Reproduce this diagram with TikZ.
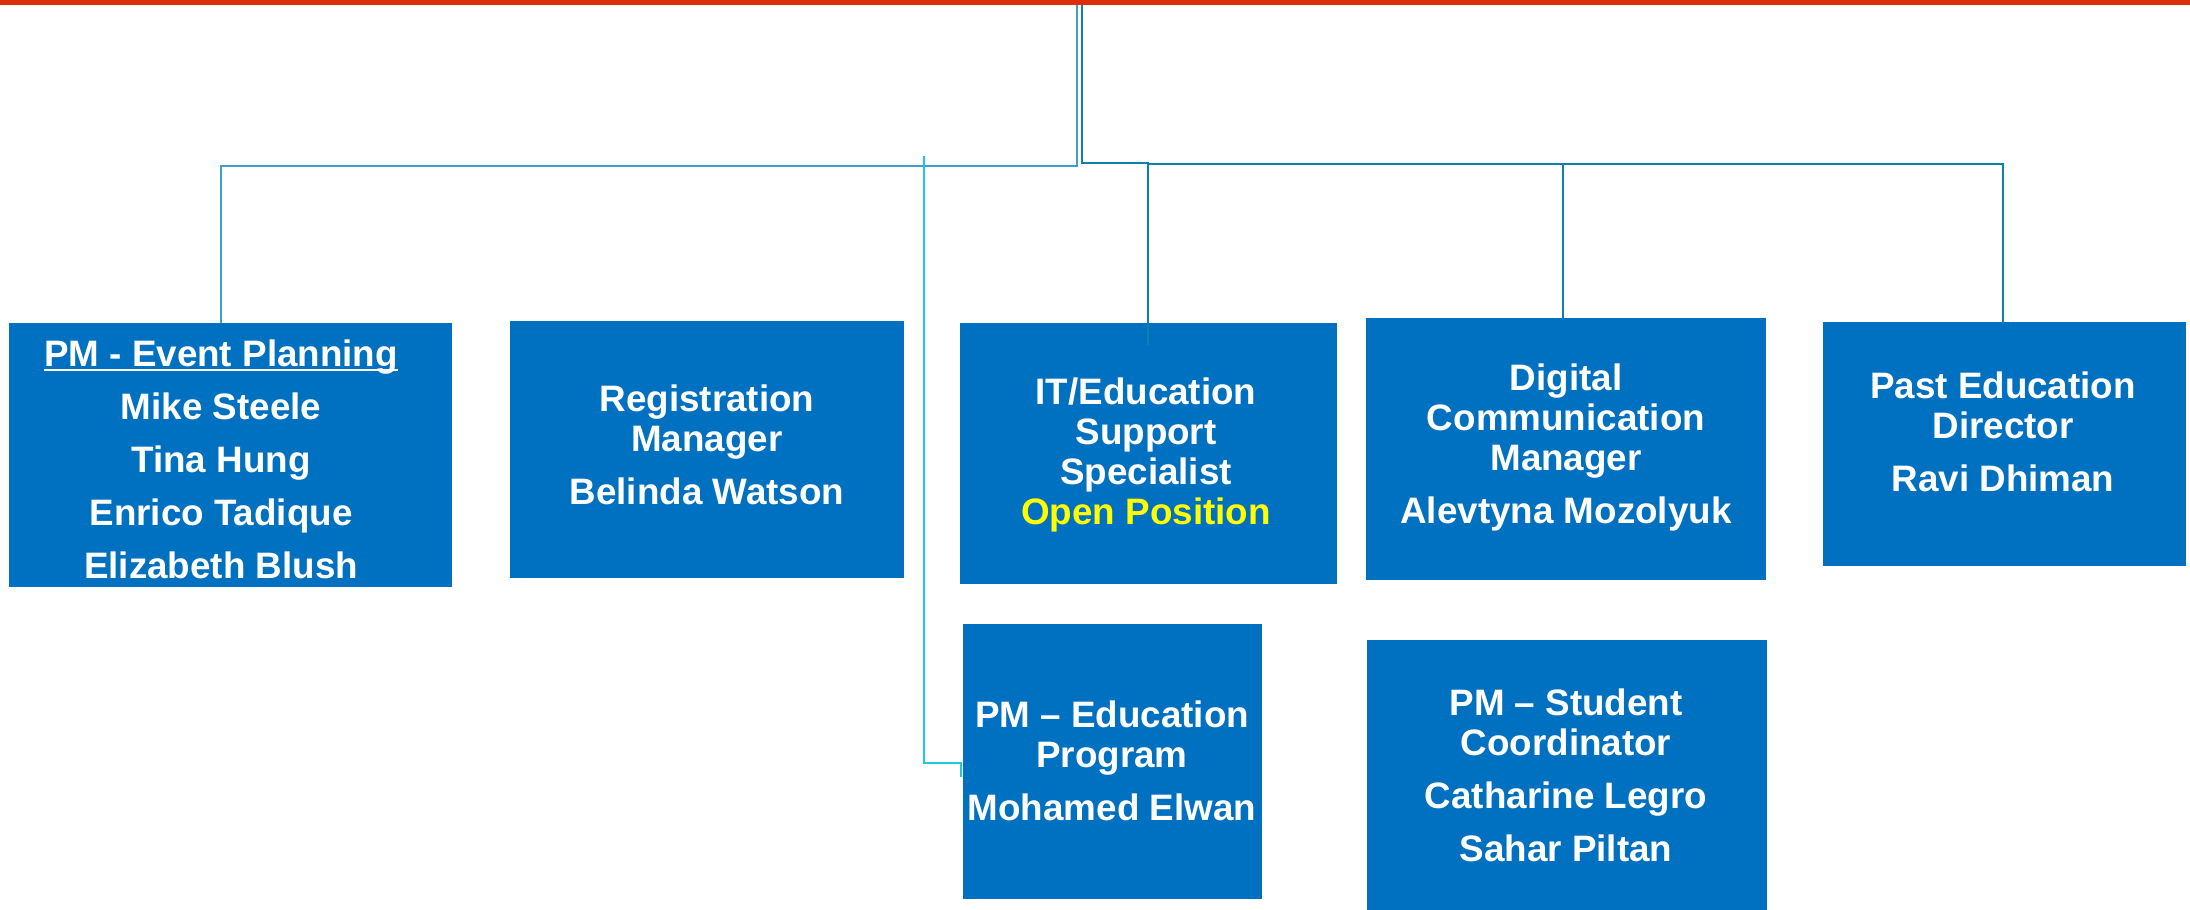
\documentclass[tikz,border=0pt]{standalone}
\usepackage{fontspec}
\setmainfont{Liberation Sans}
\definecolor{boxblue}{RGB}{0,112,192}
\definecolor{topred}{RGB}{221,46,10}
\definecolor{lineteal}{RGB}{14,128,168}
\definecolor{linelight}{RGB}{60,160,200}
\definecolor{linecyan}{RGB}{30,200,228}
\definecolor{openyellow}{RGB}{255,255,0}
\newcommand{\myul}[1]{\setbox0\hbox{#1}\rlap{\rule[-2.6pt]{\wd0}{1.1pt}}\box0}
\begin{document}
\begin{tikzpicture}[x=0.5pt,y=-0.5pt,
  orgbox/.style={fill=boxblue,draw=none,anchor=north west,inner sep=0pt},
  orgtxt/.style={text=white,align=center,font=\fontsize{18.4}{20}\selectfont\bfseries,inner sep=0pt},
  conn/.style={draw=lineteal,line width=1.2pt},
  connlight/.style={draw=linelight,line width=1.2pt},
  conncyan/.style={draw=linecyan,line width=1pt}]
\useasboundingbox (0,0) rectangle (2190,910);
\fill[topred] (0,0) rectangle (2190,5);
% boxes
\node[orgbox,minimum width=221.5pt,minimum height=132pt] (b1) at (9,323) {};
\node[orgbox,minimum width=197pt,minimum height=128.5pt] (b2) at (510,321) {};
\node[orgbox,minimum width=188.5pt,minimum height=130.5pt] (b3) at (960,323) {};
\node[orgbox,minimum width=200pt,minimum height=131pt] (b4) at (1366,318) {};
\node[orgbox,minimum width=181.5pt,minimum height=122pt] (b5) at (1823,322) {};
\node[orgbox,minimum width=149.5pt,minimum height=137.5pt] (b6) at (963,624) {};
\node[orgbox,minimum width=200pt,minimum height=135pt] (b7) at (1367,640) {};
% texts
\node[orgtxt] (t1) at (221,459) {\myul{PM - Event Planning}\\[6.5pt]Mike Steele\\[6.5pt]Tina Hung\\[6.5pt]Enrico Tadique\\[6.5pt]Elizabeth Blush};
\node[orgtxt] (t2) at (707,445) {Registration\\Manager\\[6.5pt]Belinda Watson};
\node[orgtxt] (t3) at (1146,455) {IT/Education\\Support\\Specialist\\\textcolor{openyellow}{Open Position}};
\node[orgtxt] (t4) at (1566,447) {Digital\\Communication\\Manager\\[6.5pt]Alevtyna Mozolyuk};
\node[orgtxt] (t5) at (2003,432) {Past Education\\Director\\[6.5pt]Ravi Dhiman};
\node[orgtxt] (t6) at (1112,761) {PM -- Education\\Program\\[6.5pt]Mohamed Elwan};
\node[orgtxt] (t7) at (1566,775) {PM -- Student\\Coordinator\\[6.5pt]Catharine Legro\\[6.5pt]Sahar Piltan};
% connectors
\coordinate (topL) at (1077,5);
\coordinate (topR) at (1082,5);
\coordinate (cyantop) at (924,156);
\draw[connlight] (topL) |- (221,166) -- (b1.north west -| 221,0);
\draw[conn] (topR) -- (1082,163) -- (1148,163) -- (1148,345);
\draw[conn] (1148,164) -| (b5.north -| 2003,0);
\draw[conn] (1563,164) -- (b4.north west -| 1563,0);
\draw[conncyan] (cyantop) -- (924,763) -- (961,763) -- (961,777);
\end{tikzpicture}
\end{document}
